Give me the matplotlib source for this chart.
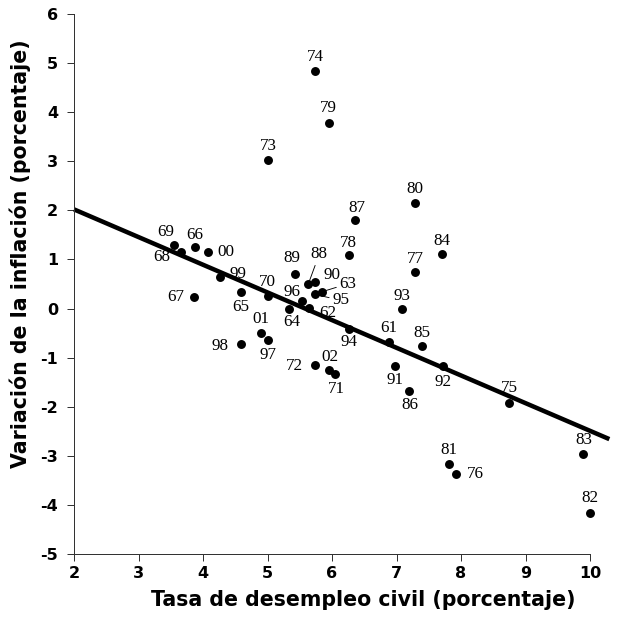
import matplotlib
matplotlib.use("Agg")
import matplotlib.pyplot as plt

plt.rcParams["axes.unicode_minus"] = False

# Tasa de desempleo vs variación de la inflación, 1961-2002
years = ['61', '62', '63', '64', '65', '66', '67', '68', '69', '70',
         '71', '72', '73', '74', '75', '76', '77', '78', '79', '80',
         '81', '82', '83', '84', '85', '86', '87', '88', '89', '90',
         '91', '92', '93', '94', '95', '96', '97', '98', '99', '00',
         '01', '02']
unemployment = [6.88, 5.65, 5.84, 5.33, 4.59, 3.87, 3.86, 3.66, 3.55, 5.00,
                6.05, 5.74, 5.01, 5.74, 8.75, 7.93, 7.29, 6.26, 5.95, 7.29,
                7.81, 10.00, 9.89, 7.71, 7.40, 7.20, 6.36, 5.63, 5.43, 5.74,
                6.98, 7.72, 7.09, 6.26, 5.73, 5.53, 5.00, 4.59, 4.26, 4.07,
                4.90, 5.95]
inflation_change = [-0.69, 0.02, 0.34, -0.01, 0.34, 1.26, 0.24, 1.15, 1.30, 0.26,
                    -1.33, -1.16, 3.03, 4.84, -1.93, -3.37, 0.75, 1.10, 3.77, 2.16,
                    -3.17, -4.17, -2.96, 1.11, -0.76, -1.68, 1.80, 0.49, 0.70, 0.55,
                    -1.18, -1.18, -0.01, -0.42, 0.29, 0.15, -0.64, -0.73, 0.65, 1.16,
                    -0.50, -1.25]

# recta de tendencia (extremos)
trend_x = [2.0, 10.3]
trend_y = [2.02, -2.66]

xticks = [2, 3, 4, 5, 6, 7, 8, 9, 10]
yticks = [-5, -4, -3, -2, -1, 0, 1, 2, 3, 4, 5, 6]

# desplazamiento de cada etiqueta (puntos, y hacia arriba)
offsets = {
    '69': (-8, 13), '68': (-19, -5), '66': (0, 12), '00': (18, 0),
    '99': (18, 3), '67': (-18, 0), '65': (0, -15), '70': (0, 14),
    '89': (-3, 16), '96': (-10, 9), '64': (3, -13), '01': (0, 14),
    '97': (0, -15), '98': (-21, -2), '72': (-21, -1), '90': (17, 7),
    '62': (18, -5), '78': (0, 12), '77': (0, 13), '84': (0, 13),
    '93': (0, 13), '94': (0, -13), '61': (0, 14), '85': (0, 13),
    '02': (1, 13), '71': (1, -15), '91': (0, -14), '92': (0, -16),
    '86': (0, -14), '75': (0, 15), '81': (0, 14), '76': (19, 0),
    '74': (0, 14), '79': (0, 15), '73': (0, 14), '80': (0, 14),
    '87': (2, 12), '83': (1, 14), '82': (0, 15),
}
# etiquetas con línea guía
leaders = {'88': (11, 30), '63': (26, 8), '95': (26, -6)}

fig = plt.figure(figsize=(623 / 72, 622 / 72), dpi=72)
ax = fig.add_axes([74 / 623, 68 / 622, 516 / 623, 540 / 622])

ax.plot(trend_x, trend_y, color="black", lw=4.5, solid_capstyle="butt",
        clip_on=False, zorder=2)
ax.scatter(unemployment, inflation_change, s=80, color="black", zorder=3,
           clip_on=False, linewidths=0)

for yr, x, y in zip(years, unemployment, inflation_change):
    if yr in leaders:
        ax.annotate(yr, (x, y), xytext=leaders[yr], textcoords="offset points",
                    ha="center", va="center", family="Liberation Serif",
                    fontsize=17,
                    arrowprops=dict(arrowstyle="-", lw=0.9, color="black",
                                    shrinkA=1, shrinkB=4))
    else:
        ax.annotate(yr, (x, y), xytext=offsets[yr], textcoords="offset points",
                    ha="center", va="center", family="Liberation Serif",
                    fontsize=17)

ax.set_xlim(2, 10)
ax.set_ylim(-5, 6)
ax.set_xticks(xticks)
ax.set_yticks(yticks)
ax.spines["top"].set_visible(False)
ax.spines["right"].set_visible(False)
for side in ["left", "bottom"]:
    ax.spines[side].set_linewidth(1)
    ax.spines[side].set_color("#333333")
ax.tick_params(direction="out", length=7, width=1, color="#333333",
               labelsize=16)
ax.tick_params(axis="y", pad=9)
ax.tick_params(axis="x", pad=5)
for lbl in ax.get_xticklabels() + ax.get_yticklabels():
    lbl.set_fontweight("bold")

ax.set_xlabel("Tasa de desempleo civil (porcentaje)", fontsize=20.5,
              fontweight="bold")
ax.set_ylabel("Variación de la inflación (porcentaje)", fontsize=20.5,
              fontweight="bold")
ax.xaxis.set_label_coords(0.56, -0.066)
ax.yaxis.set_label_coords(-0.083, 0.556)

fig.savefig("out.png", dpi=72)
